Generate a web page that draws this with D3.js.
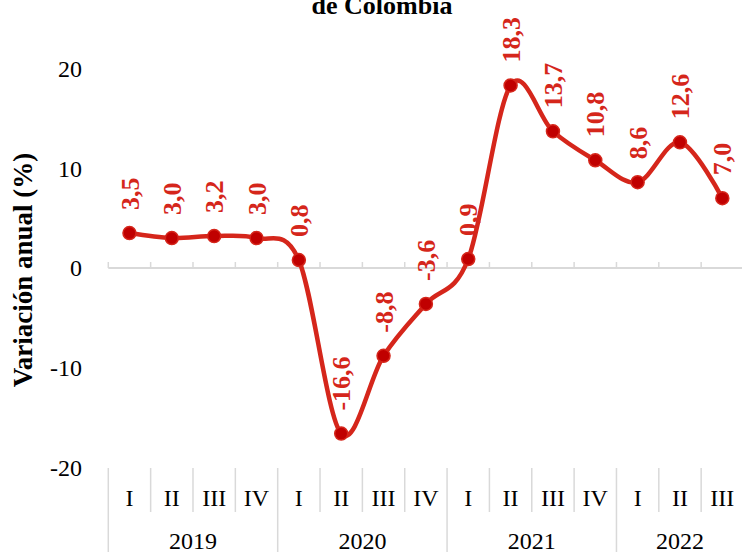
<!DOCTYPE html>
<html>
<head>
<meta charset="utf-8">
<script src="https://cdn.jsdelivr.net/npm/d3@7"></script>
<style>
  body { margin: 0; background: white; }
  svg { display: block; }
</style>
</head>
<body>
<svg id="chart" width="742" height="552"></svg>
<script>

var quarters = ['I', 'II', 'III', 'IV', 'I', 'II', 'III', 'IV', 'I', 'II', 'III', 'IV', 'I', 'II', 'III'];
var years = ['2019', '2019', '2019', '2019', '2020', '2020', '2020', '2020',
             '2021', '2021', '2021', '2021', '2022', '2022', '2022'];
var values = [3.5, 3.0, 3.2, 3.0, 0.8, -16.6, -8.8, -3.6, 0.9, 18.3, 13.7, 10.8, 8.6, 12.6, 7.0];
var yTicks = [-20, -10, 0, 10, 20];

var red = '#d5261b';
var dark_red = '#c00000';
var grid = '#d9d9d9';
var serif = '"Liberation Serif", "DejaVu Serif", serif';

var svg = d3.select('#chart');

var idx = values.map((v, i) => i);
var x = d3.scaleBand().domain(idx).range([108.3, 743.5]).padding(0);
var y = d3.scaleLinear().domain([-20, 20]).range([467.5, 68.5]);

// title (first line is cut off in the original)
svg.append('text')
   .attr('x', 382)
   .attr('y', 14)
   .attr('text-anchor', 'middle')
   .attr('font-family', serif)
   .attr('font-weight', 'bold')
   .attr('font-size', 26)
   .text('de Colombia');

// y axis labels
svg.append('g')
   .selectAll('text')
   .data(yTicks)
   .enter()
   .append('text')
   .attr('x', 82)
   .attr('y', d => y(d))
   .attr('dy', '0.35em')
   .attr('text-anchor', 'end')
   .attr('font-family', serif)
   .attr('font-size', 24)
   .text(d => d);

svg.append('text')
   .attr('transform', 'translate(23,' + (y(0) + 2) + ') rotate(-90)')
   .attr('dy', '0.35em')
   .attr('text-anchor', 'middle')
   .attr('font-family', serif)
   .attr('font-weight', 'bold')
   .attr('font-size', 27)
   .text('Variación anual (%)');

// zero line with ticks
var bounds = idx.map(i => x(i)).concat([x.range()[1]]);

svg.append('line')
   .attr('x1', x.range()[0])
   .attr('x2', x.range()[1])
   .attr('y1', y(0))
   .attr('y2', y(0))
   .attr('stroke', grid)
   .attr('stroke-width', 2);

svg.append('g')
   .selectAll('line')
   .data(bounds)
   .enter()
   .append('line')
   .attr('x1', d => d)
   .attr('x2', d => d)
   .attr('y1', y(0))
   .attr('y2', y(0) - 6)
   .attr('stroke', grid)
   .attr('stroke-width', 1.5);

// category axis below the plot
var cat_top = 468;
svg.append('g')
   .selectAll('line')
   .data(bounds)
   .enter()
   .append('line')
   .attr('x1', d => d)
   .attr('x2', d => d)
   .attr('y1', cat_top)
   .attr('y2', (d, i) => (i % 4 == 0) ? 552 : 512)
   .attr('stroke', grid)
   .attr('stroke-width', 1.5);

svg.append('g')
   .selectAll('text')
   .data(quarters)
   .enter()
   .append('text')
   .attr('x', (d, i) => x(i) + x.bandwidth() / 2)
   .attr('y', 506)
   .attr('text-anchor', 'middle')
   .attr('font-family', serif)
   .attr('font-size', 24)
   .text(d => d);

var year_list = Array.from(new Set(years));
svg.append('g')
   .selectAll('text')
   .data(year_list)
   .enter()
   .append('text')
   .attr('x', d => {
     var first = years.indexOf(d);
     var last = years.lastIndexOf(d);
     return (x(first) + x(last) + x.bandwidth()) / 2;
   })
   .attr('y', 549)
   .attr('text-anchor', 'middle')
   .attr('font-family', serif)
   .attr('font-size', 24)
   .text(d => d);

// smoothed line
var cx = i => x(i) + x.bandwidth() / 2;

var line = d3.line()
             .x((d, i) => cx(i))
             .y(d => y(d))
             .curve(d3.curveCatmullRom.alpha(0));

svg.append('path')
   .datum(values)
   .attr('fill', 'none')
   .attr('stroke', red)
   .attr('stroke-width', 4.5)
   .attr('stroke-linejoin', 'round')
   .attr('d', line);

svg.append('g')
   .selectAll('circle')
   .data(values)
   .enter()
   .append('circle')
   .attr('cx', (d, i) => cx(i))
   .attr('cy', d => y(d))
   .attr('r', 6.5)
   .attr('fill', dark_red)
   .attr('stroke', red)
   .attr('stroke-width', 1.5);

// data labels
svg.append('g')
   .selectAll('text')
   .data(values)
   .enter()
   .append('text')
   .attr('transform', (d, i) => 'translate(' + cx(i) + ',' + (y(d) - 23) + ') rotate(-90)')
   .attr('dy', '0.35em')
   .attr('text-anchor', 'start')
   .attr('font-family', serif)
   .attr('font-weight', 'bold')
   .attr('font-size', 26)
   .attr('fill', red)
   .text(d => d.toFixed(1).replace('.', ','));

</script>
</body>
</html>
